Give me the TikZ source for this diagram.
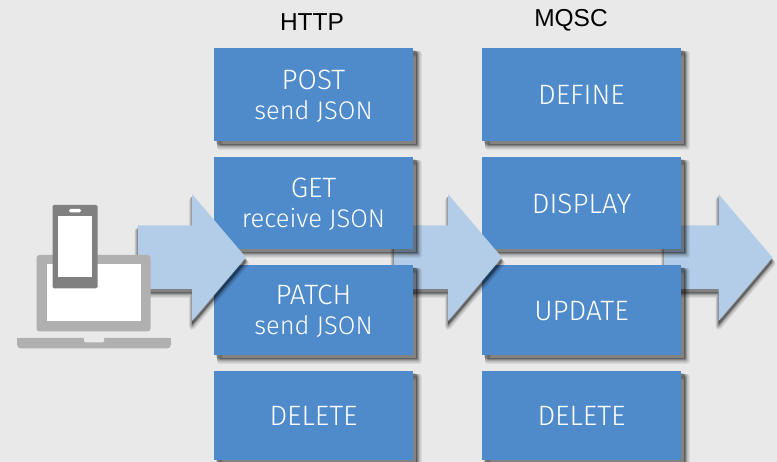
\documentclass[tikz,border=0pt]{standalone}
\usepackage{fontspec}
\setmainfont{Fira Sans}[UprightFont=* Light]
\newfontfamily\headfont{Liberation Sans}
\definecolor{pagegray}{HTML}{E9E9E9}
\definecolor{boxblue}{HTML}{4F8BCA}
\definecolor{arrowblue}{HTML}{B3CDE8}
\definecolor{lidgray}{HTML}{B0B0B0}
\definecolor{phonegray}{HTML}{808080}
\tikzset{
    shadow layer/.style n args={3}{
        preaction={fill=black, draw=black, opacity=.065, line width=#3pt, line join=round
            , transform canvas={shift={(#1*#2pt,-#2pt)}}}
    },
    softshadow/.style={
        shadow layer={#1}{2}{0.1},
        shadow layer={#1}{3}{0.1},
        shadow layer={#1}{3.5}{1},
        shadow layer={#1}{4}{2},
        shadow layer={#1}{4.5}{3},
        shadow layer={#1}{5}{4},
        shadow layer={#1}{5.5}{5},
        shadow layer={#1}{6}{6}
    },
    verb/.style={softshadow=1, fill=boxblue, text=white, inner sep=0pt, outer sep=0pt
        , minimum width=199pt, align=center
        , font=\fontsize{28}{30}\selectfont},
    column head/.style={font=\headfont\fontsize{24.5}{28}\selectfont, inner sep=0pt},
    flow/.style={softshadow=0, fill=arrowblue},
}
% method name over what it does, the boxes keep a fixed height
\newcommand{\oneline}[1]{\raisebox{-1pt}[19pt][0pt]{#1}}
\newcommand{\twolines}[2]{\raisebox{-1pt}[18pt][0pt]{#1}\\
    \raisebox{-1pt}[18pt][0pt]{\fontsize{25.5}{30}\selectfont #2}}
\newcommand{\flowarrow}[1]{%
    \fill[flow] (#1,225.5) -- ++(54.5,0) -- ++(0,-31.5) -- ++(54,63.5)
        -- ++(-54,63.5) -- ++(0,-32) -- ++(-54.5,0) -- cycle;
}
\begin{document}
\begin{tikzpicture}[x=1pt, y=-1pt]
    \useasboundingbox (0,0) rectangle (777,462);
    \fill[pagegray] (0,0) rectangle (777,462);

    \node[column head] (http) at (312,22) {HTTP};
    \node[column head] (mqsc) at (571,20) {MQSC};

    % arrows and columns are stacked, last one on top.
    \flowarrow{664}

    \node[verb, minimum height=93pt] (define) at (581.5,94.5) {\oneline{DEFINE}};
    \node[verb, minimum height=92pt] (display) at (581.5,203) {\oneline{DISPLAY}};
    \node[verb, minimum height=90pt] (update) at (581.5,310) {\oneline{UPDATE}};
    \node[verb, minimum height=89pt] (delmq) at (581.5,415.5) {\oneline{DELETE}};

    \flowarrow{393.5}

    \node[verb, minimum height=93pt] (post) at (313.5,94.5) {\twolines{POST}{send JSON}};
    \node[verb, minimum height=92pt] (get) at (313.5,203) {\twolines{GET}{receive JSON}};
    \node[verb, minimum height=90pt] (patch) at (313.5,310) {\twolines{PATCH}{send JSON}};
    \node[verb, minimum height=89pt] (delhttp) at (313.5,415.5) {\oneline{DELETE}};

    \flowarrow{137.5}

    % laptop
    \fill[lidgray, rounded corners=3pt] (36.5,331.5) -- (36.5,255) -- (150.5,255) -- (150.5,331.5) -- cycle;
    \fill[white] (47,264.5) rectangle (141,321.5);
    \fill[lidgray, rounded corners=4pt] (17,338) -- (171,338) -- (171,348.5) -- (17,348.5) -- cycle;
    \fill[lidgray] (17,338) rectangle (171,342);
    \fill[pagegray, rounded corners=1.5pt] (84,337) -- (84,342.5) -- (104,342.5) -- (104,337) -- cycle;

    % phone sits on top of it
    \fill[phonegray, rounded corners=1.5pt] (52.5,205) rectangle (97.5,288.5);
    \fill[white] (57.5,216.5) rectangle (92,277.5);
    \fill[white, rounded corners=1.5pt] (69,209) rectangle (81,212.5);
\end{tikzpicture}
\end{document}
